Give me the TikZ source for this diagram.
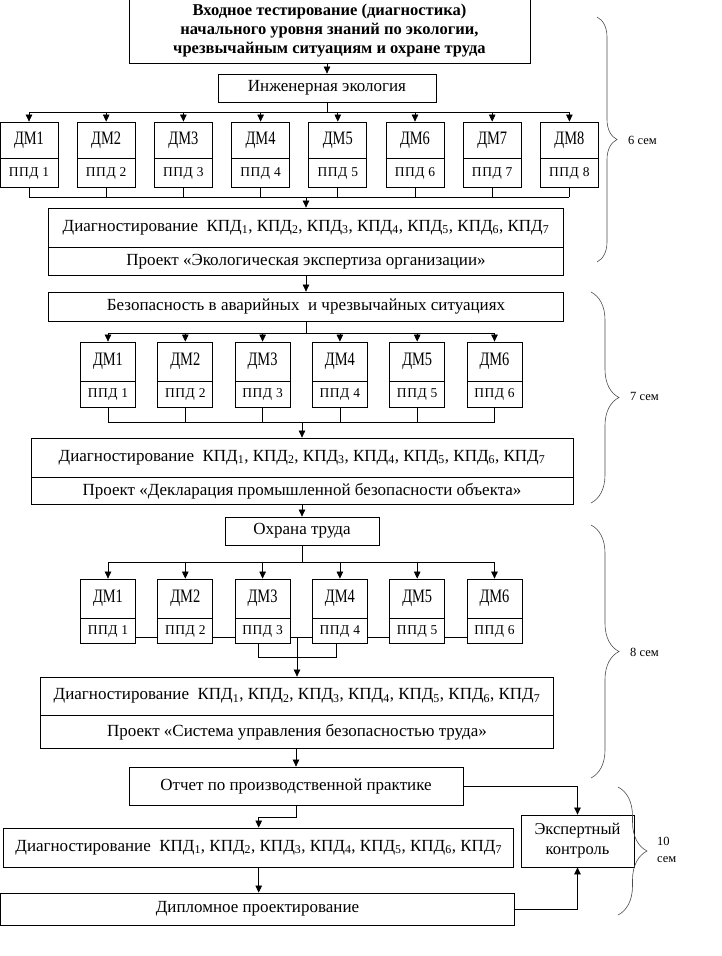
\documentclass[tikz,border=0pt]{standalone}
\usepackage{fontspec}
\setmainfont{Liberation Serif}
\newfontfamily\dmfont[FakeStretch=0.76]{Liberation Serif}
\newfontfamily\ppdfont[LetterSpace=4]{Liberation Serif}
\usetikzlibrary{arrows.meta,decorations.pathreplacing,calc}

\newcommand\fmain{\fontsize{17}{20}\selectfont}
\newcommand\fdm{\dmfont\fontsize{19}{22}\selectfont}
\newcommand\fppd{\ppdfont\fontsize{13.5}{15}\selectfont}
\newcommand\ftop{\fontsize{16.5}{19}\selectfont\bfseries}
\newcommand\fsem{\fontsize{12.5}{17}\selectfont}
\newcommand\kpd[1]{КПД\textsubscript{#1}}
\newcommand\diagline{Диагностирование\ \ \kpd{1}, \kpd{2}, \kpd{3}, \kpd{4}, \kpd{5}, \kpd{6}, \kpd{7}}

\tikzset{
  blk/.style={draw,line width=0.8pt,inner sep=0pt,align=center,fill=white,font=\fmain},
  arr/.style={-{Triangle[length=7pt,width=6.5pt]},line width=0.7pt},
  ln/.style={line width=0.7pt},
  semb/.style={decorate,decoration={brace,amplitude=#1},line width=0.6pt,draw=black!70},
  semlbl/.style={anchor=west,align=left,font=\fsem,inner sep=0pt},
}

\begin{document}
\begin{tikzpicture}[x=1pt,y=-1pt]
  \useasboundingbox (0,0) rectangle (722,956);

  % 6 semester
  \node[blk,minimum width=401pt,minimum height=64pt,font=\ftop] (vhod) at (329.5,31)
    {Входное тестирование (диагностика)\\начального уровня знаний по экологии,\\чрезвычайным ситуациям и охране труда};
  \node[blk,minimum width=218pt,minimum height=28pt] (inzh) at (327,88) {Инженерная экология};
  \draw[arr] (vhod.south -| inzh.north) -- (inzh.north);
  \coordinate (busA) at (0,112);
  \coordinate (busAb) at (0,197);
  \foreach \i in {1,...,8}{
    \pgfmathsetmacro\cx{29+77.2*(\i-1)}
    \node[blk,minimum width=58pt,minimum height=36pt,font=\fdm] (dmA\i) at (\cx,140) {ДМ\i};
    \node[blk,minimum width=58pt,minimum height=29pt,font=\fppd,anchor=north] (ppdA\i) at (dmA\i.south) {ППД \i};
    \draw[arr] (dmA\i.north |- busA) -- (dmA\i.north);
    \draw[ln] (ppdA\i.south) -- (ppdA\i.south |- busAb);
  }
  \draw[ln] (inzh.south) -- (inzh.south |- busA);
  \draw[ln] (dmA1.north |- busA) -- (dmA8.north |- busA);
  \draw[ln] (ppdA1.south |- busAb) -- (ppdA8.south |- busAb);
  \node[blk,minimum width=515pt,minimum height=39pt] (diagA) at (306,227.5) {\diagline};
  \node[blk,minimum width=515pt,minimum height=28pt,anchor=north] (projA) at (diagA.south)
    {Проект «Экологическая экспертиза организации»};
  \draw[arr] (diagA.north |- busAb) -- (diagA.north);

  % 7 semester
  \node[blk,minimum width=515pt,minimum height=29pt] (bezop) at (306,306.5)
    {Безопасность в аварийных\ \ и чрезвычайных ситуациях};
  \draw[arr] (projA.south) -- (bezop.north);
  \coordinate (busB) at (0,333);
  \coordinate (busBb) at (0,422);
  \foreach \i in {1,...,6}{
    \pgfmathsetmacro\cx{108+77.3*(\i-1)}
    \node[blk,minimum width=55pt,minimum height=39pt,font=\fdm] (dmB\i) at (\cx,361.5) {ДМ\i};
    \node[blk,minimum width=55pt,minimum height=26pt,font=\fppd,anchor=north] (ppdB\i) at (dmB\i.south) {ППД \i};
    \draw[arr] (dmB\i.north |- busB) -- (dmB\i.north);
    \draw[ln] (ppdB\i.south) -- (ppdB\i.south |- busBb);
  }
  \draw[ln] (bezop.south) -- (bezop.south |- busB);
  \draw[ln] (dmB1.north |- busB) -- (dmB6.north |- busB);
  \draw[ln] (ppdB1.south |- busBb) -- (ppdB6.south |- busBb);
  \node[blk,minimum width=542pt,minimum height=39pt] (diagB) at (302,457.5) {\diagline};
  \node[blk,minimum width=542pt,minimum height=27pt,anchor=north] (projB) at (diagB.south)
    {Проект «Декларация промышленной безопасности объекта»};
  \draw[arr] (diagB.north |- busBb) -- (diagB.north);

  % 8 semester
  \node[blk,minimum width=154pt,minimum height=28pt] (ohrana) at (302,531) {Охрана труда};
  \draw[arr] (projB.south) -- (ohrana.north);
  \coordinate (busC) at (0,562);
  \coordinate (linkC) at (0,637);
  \coordinate (brkC) at (0,657);
  \foreach \i in {1,...,6}{
    \pgfmathsetmacro\cx{108+77.3*(\i-1)}
    \node[blk,minimum width=55pt,minimum height=39pt,font=\fdm] (dmC\i) at (\cx,598.5) {ДМ\i};
    \node[blk,minimum width=55pt,minimum height=25pt,font=\fppd,anchor=north] (ppdC\i) at (dmC\i.south) {ППД \i};
    \draw[arr] (dmC\i.north |- busC) -- (dmC\i.north);
  }
  \foreach \i [count=\j from 2] in {1,...,5}
    \draw[ln] (ppdC\i.east |- linkC) -- (ppdC\j.west |- linkC);
  \draw[ln] (ohrana.south) -- (ohrana.south |- busC);
  \draw[ln] (dmC1.north |- busC) -- (dmC6.north |- busC);
  \draw[ln] ($(ppdC3.south)+(-4,0)$) -- ($(ppdC3.south |- brkC)+(-4,0)$)
    -- ($(ppdC4.south |- brkC)+(-4,0)$) -- ($(ppdC4.south)+(-4,0)$);
  \node[blk,minimum width=513pt,minimum height=38pt] (diagC) at (297,696) {\diagline};
  \node[blk,minimum width=513pt,minimum height=33pt,anchor=north] (projC) at (diagC.south)
    {Проект «Система управления безопасностью труда»};
  \draw[arr] (diagC.north |- linkC) -- (diagC.north);

  % 10 semester
  \node[blk,minimum width=334pt,minimum height=38pt] (otchet) at (296,786) {Отчет по производственной практике};
  \draw[arr] (projC.south -| otchet.north) -- (otchet.north);
  \node[blk,minimum width=113pt,minimum height=52pt,font=\fontsize{16.5}{20}\selectfont] (ekspert) at (577.5,841)
    {Экспертный\\контроль};
  \node[blk,minimum width=510pt,minimum height=39pt] (diagD) at (258.7,847.5) {\diagline};
  \node[blk,minimum width=514pt,minimum height=32pt] (diplom) at (257.5,909) {Дипломное проектирование};
  \draw[arr] (otchet.east) -| (ekspert.north);
  \draw[arr] (otchet.south) -- ++(0,12) -| (diagD.north);
  \draw[arr] (diagD.south) -- (diagD.south |- diplom.north);
  \draw[arr] (diplom.east) -| (ekspert.south);

  % semester braces
  \draw[semb=20pt] (597,17) -- (597,262);
  \node[semlbl] (sem6) at (628,140) {6 сем};
  \draw[semb=28pt] (591,292) -- (591,503);
  \node[semlbl] (sem7) at (630,396) {7 сем};
  \draw[semb=28pt] (591,525) -- (591,778);
  \node[semlbl] (sem8) at (630,652) {8 сем};
  \draw[semb=29pt] (618,787) -- (618,915);
  \node[semlbl] (sem10) at (657,850) {10\\сем};
\end{tikzpicture}
\end{document}
